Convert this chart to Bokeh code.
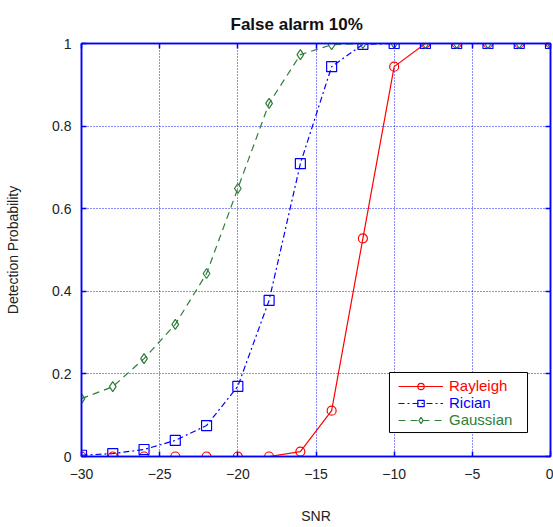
from bokeh.plotting import figure
from bokeh.models import LinearAxis, Title, Range1d, FixedTicker, Legend, LegendItem, BoxAnnotation
from bokeh.embed import file_html
from bokeh.resources import INLINE

snr = [-30, -28, -26, -24, -22, -20, -18, -16, -14, -12, -10, -8, -6, -4, -2, 0]
rayleigh = [0.0, 0.0, 0.0, 0.0, 0.0, 0.0, 0.0, 0.012, 0.111, 0.528, 0.944, 1.0, 1.0, 1.0, 1.0, 1.0]
rician = [0.003, 0.007, 0.017, 0.039, 0.075, 0.17, 0.378, 0.709, 0.944, 0.998, 1.0, 1.0, 1.0, 1.0, 1.0, 1.0]
gaussian = [0.14, 0.169, 0.237, 0.32, 0.443, 0.649, 0.855, 0.973, 0.997, 1.0, 1.0, 1.0, 1.0, 1.0, 1.0, 1.0]
x_ticks = [-30, -25, -20, -15, -10, -5, 0]
y_ticks = [0, 0.2, 0.4, 0.6, 0.8, 1]

FONT = "Liberation Sans"
BLUE = "#0000ff"
RED = "#ff0000"
GREEN = "#2e7d3a"

p = figure(width=553, height=527, output_backend="svg", toolbar_location=None,
           x_range=Range1d(-30, 0), y_range=Range1d(0, 1),
           min_border_left=81, min_border_right=3, min_border_top=43, min_border_bottom=71)

p.title = Title(text="False alarm 10%", align="left", text_font=FONT,
                text_font_size="17px", text_font_style="bold", text_color="#111111",
                offset=149, standoff=15, vertical_align="top")

p.background_fill_color = "white"
p.border_fill_color = "white"
p.outline_line_color = BLUE
p.outline_line_width = 1.5

xt = FixedTicker(ticks=x_ticks)
yt = FixedTicker(ticks=y_ticks)

bottom = p.below[0]
left = p.left[0]
bottom.ticker = xt
left.ticker = yt

top = LinearAxis(ticker=xt, major_label_standoff=0, major_label_text_font_size="1px",
                 major_label_overrides={t: "" for t in x_ticks})
right = LinearAxis(ticker=yt, major_label_standoff=0, major_label_text_font_size="1px",
                   major_label_overrides={t: "" for t in y_ticks})
p.add_layout(top, "above")
p.add_layout(right, "right")

for ax in [bottom, left, top, right]:
    ax.axis_line_color = BLUE
    ax.axis_line_width = 1.5
    ax.major_tick_line_color = BLUE
    ax.major_tick_line_width = 1.5
    ax.major_tick_in = 5
    ax.major_tick_out = 0
    ax.minor_tick_line_color = None
    ax.major_label_text_font = FONT
    ax.major_label_text_color = "#222222"

for ax in [bottom, left]:
    ax.major_label_text_font_size = "14px"

bottom.major_label_standoff = 12
left.major_label_standoff = 10
bottom.major_label_overrides = {0: "0"}
left.major_label_overrides = {0: "0", 1: "1"}

bottom.axis_label = "SNR"
left.axis_label = "Detection Probability"
for ax in [bottom, left]:
    ax.axis_label_text_font = FONT
    ax.axis_label_text_font_size = "14px"
    ax.axis_label_text_font_style = "normal"
    ax.axis_label_text_color = "#222222"
bottom.axis_label_standoff = 26
left.axis_label_standoff = 28

p.grid.grid_line_color = BLUE
p.grid.grid_line_alpha = 0.9
p.grid.grid_line_dash = "1 2"
p.grid.grid_line_width = 1

r1l = p.line(snr, rayleigh, line_color=RED, line_width=1.2)
r1s = p.scatter(snr, rayleigh, marker="circle", size=9, fill_color=None, line_color=RED,
                line_width=1.2)

r2l = p.line(snr, rician, line_color=BLUE, line_width=1.2, line_dash="6 3 2 3")
r2s = p.scatter(snr, rician, marker="square", size=10, fill_color=None, line_color=BLUE,
                line_width=1.2)

r3l = p.line(snr, gaussian, line_color=GREEN, line_width=1.2, line_dash="7 5")
r3s = p.scatter(snr, gaussian, marker="diamond", size=10, fill_color=None, line_color=GREEN,
                line_width=1.2)

box = BoxAnnotation(left=-10.30, right=-1.47, bottom=0.058, top=0.2034,
                    fill_color="white", fill_alpha=1, line_color="black", line_width=1,
                    line_alpha=1)
p.add_layout(box)

entries = [("Rayleigh", [r1l, r1s], RED, 62),
           ("Rician", [r2l, r2s], BLUE, 45),
           ("Gaussian", [r3l, r3s], GREEN, 28)]
for label, rends, col, yb in entries:
    lg = Legend(items=[LegendItem(label=label, renderers=rends)], location=(317, yb))
    lg.border_line_color = None
    lg.background_fill_alpha = 0
    lg.label_text_font = FONT
    lg.label_text_font_size = "15px"
    lg.label_text_color = col
    lg.glyph_width = 45
    lg.glyph_height = 16
    lg.label_height = 16
    lg.padding = 0
    lg.margin = 0
    lg.spacing = 0
    lg.label_standoff = 6
    p.add_layout(lg)

open("out.html", "w").write(file_html(p, INLINE))
